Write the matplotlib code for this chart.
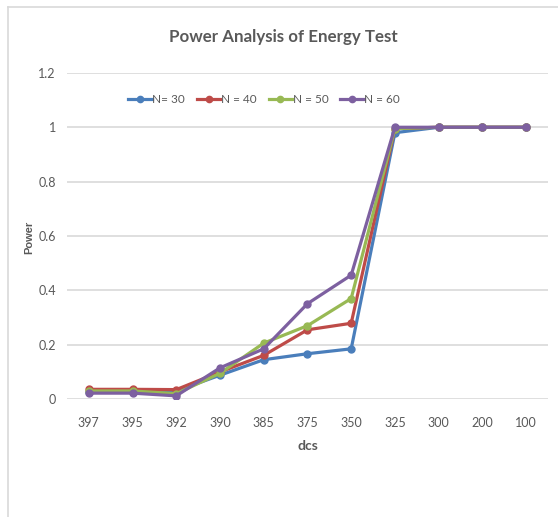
import matplotlib
matplotlib.use("Agg")
import matplotlib.pyplot as plt
from matplotlib.lines import Line2D

# power values per dcs threshold and sample size
dcs = ["397", "395", "392", "390", "385", "375", "350", "325", "300", "200", "100"]
n30 = [0.025, 0.025, 0.030, 0.088, 0.145, 0.167, 0.185, 0.980, 1.0, 1.0, 1.0]
n40 = [0.036, 0.036, 0.035, 0.100, 0.161, 0.255, 0.279, 0.995, 1.0, 1.0, 1.0]
n50 = [0.030, 0.030, 0.020, 0.095, 0.206, 0.270, 0.370, 0.995, 1.0, 1.0, 1.0]
n60 = [0.022, 0.022, 0.012, 0.115, 0.185, 0.351, 0.456, 1.0, 1.0, 1.0, 1.0]

series = [("N= 30", n30, "#4A7EBB"),
          ("N = 40", n40, "#BE4B48"),
          ("N = 50", n50, "#98B954"),
          ("N = 60", n60, "#7D60A0")]

font = ["Lato", "DejaVu Sans"]
grey = "#595959"

fig = plt.figure(figsize=(5.58, 5.17), dpi=100)
ax = fig.add_axes([0.120, 0.228, 0.862, 0.631])

x = range(len(dcs))
for name, vals, col in series:
    ax.plot(x, vals, color=col, lw=2.3, marker="o", ms=5, label=name)

ax.set_xlim(-0.5, len(dcs) - 0.5)
ax.set_ylim(0, 1.2)
ax.set_yticks([0, 0.2, 0.4, 0.6, 0.8, 1.0, 1.2])
ax.set_yticklabels(["0", "0.2", "0.4", "0.6", "0.8", "1", "1.2"])
ax.set_xticks(list(x))
ax.set_xticklabels(dcs)
for lab in ax.get_xticklabels() + ax.get_yticklabels():
    lab.set_family(font)
    lab.set_fontsize(9)
    lab.set_color(grey)
ax.tick_params(axis="x", length=0, pad=13)
ax.tick_params(axis="y", length=0, pad=8)
ax.grid(axis="y", color="#D9D9D9", lw=1.2)
ax.set_axisbelow(True)
for s in ax.spines.values():
    s.set_visible(False)

ax.set_xlabel("dcs", family=font, fontsize=10, fontweight="bold", color=grey, labelpad=8)
fig.text(0.052, 0.54, "Power", rotation=90, family="Liberation Sans", fontsize=8,
         fontweight="bold", color=grey, ha="center", va="center")

fig.text(0.507, 0.928, "Power Analysis of Energy Test", family=font, fontsize=12.2,
         fontweight="bold", color=grey, ha="center", va="center")

leg = ax.legend(loc="center", bbox_to_anchor=(0.41, 0.917), ncol=4, frameon=False,
                prop={"family": font, "size": 8.5}, handlelength=2.0, columnspacing=1.0,
                handletextpad=0.05, markerscale=0.9)
for t in leg.get_texts():
    t.set_color(grey)

# outer chart border
fig.add_artist(Line2D([7.5 / 558, 7.5 / 558], [0, 1 - 7 / 517], color="#D9D9D9", lw=1.2))
fig.add_artist(Line2D([7.5 / 558, 1], [1 - 7 / 517, 1 - 7 / 517], color="#D9D9D9", lw=1.2))

fig.savefig("out.png", dpi=100)
